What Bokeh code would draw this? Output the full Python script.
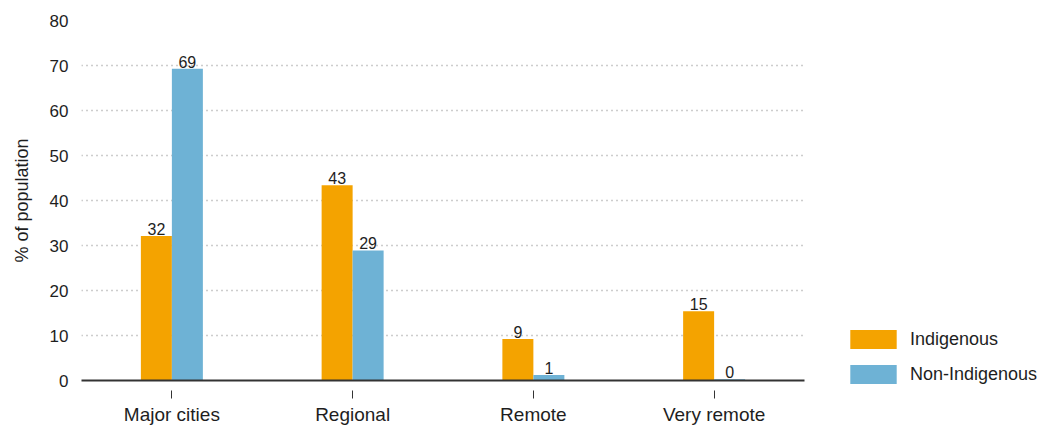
from bokeh.plotting import figure
from bokeh.models import ColumnDataSource, Range1d, FactorRange, Legend, LegendItem, FixedTicker
from bokeh.transform import dodge
from bokeh.core.properties import value
from bokeh.embed import file_html
from bokeh.resources import INLINE

categories = ["Major cities", "Regional", "Remote", "Very remote"]
indigenous = [32.1, 43.4, 9.2, 15.4]
non_indigenous = [69.3, 28.9, 1.2, 0.3]
indigenous_labels = ["32", "43", "9", "15"]
non_indigenous_labels = ["69", "29", "1", "0"]
y_ticks = [0, 10, 20, 30, 40, 50, 60, 70, 80]

ORANGE = "#F4A300"
BLUE = "#6EB2D5"
FONT = "Liberation Sans"
TXT = "#1e1e1e"

src = ColumnDataSource(dict(cat=categories, ind=indigenous, non=non_indigenous,
                            ind_lbl=indigenous_labels, non_lbl=non_indigenous_labels))

p = figure(x_range=FactorRange(*categories), y_range=Range1d(0, 80),
           frame_width=723, frame_height=360,
           min_border_left=81, min_border_right=243, min_border_top=20, min_border_bottom=40,
           output_backend="svg", toolbar_location=None, background_fill_color="white",
           border_fill_color="white", outline_line_color=None)

bw = 0.1715
off = bw / 2
r1 = p.vbar(x=dodge("cat", -off, range=p.x_range), top="ind", width=bw, source=src,
            fill_color=ORANGE, line_color=None)
r2 = p.vbar(x=dodge("cat", off, range=p.x_range), top="non", width=bw, source=src,
            fill_color=BLUE, line_color=None)

for col, lbl, o in (("ind", "ind_lbl", -off), ("non", "non_lbl", off)):
    p.text(x=dodge("cat", o, range=p.x_range), y=col, text=lbl, source=src,
           text_align="center", text_baseline="bottom", y_offset=-1,
           text_font=value(FONT), text_font_size="16px", text_color=TXT)

# grid
p.xgrid.grid_line_color = None
p.ygrid.grid_line_color = "#9a9a9a"
p.ygrid.grid_line_dash = "1 4"
p.ygrid.grid_line_width = 1.5
p.ygrid.ticker = FixedTicker(ticks=y_ticks)

# y axis
p.yaxis.ticker = FixedTicker(ticks=y_ticks)
p.yaxis.axis_line_color = None
p.yaxis.major_tick_line_color = None
p.yaxis.minor_tick_line_color = None
p.yaxis.major_label_standoff = 7
p.yaxis.major_label_text_font = FONT
p.yaxis.major_label_text_font_size = "17px"
p.yaxis.major_label_text_color = TXT
p.yaxis.axis_label = "% of population"
p.yaxis.axis_label_text_font = FONT
p.yaxis.axis_label_text_font_size = "18px"
p.yaxis.axis_label_text_font_style = "normal"
p.yaxis.axis_label_text_color = TXT
p.yaxis.axis_label_standoff = 15

# x axis
p.xaxis.axis_line_color = "#333333"
p.xaxis.axis_line_width = 2
p.xaxis.major_tick_line_color = "#333333"
p.xaxis.major_tick_in = -10
p.xaxis.major_tick_out = 18
p.xaxis.minor_tick_line_color = None
p.xaxis.major_label_standoff = 5
p.xaxis.major_label_text_font = FONT
p.xaxis.major_label_text_font_size = "19px"
p.xaxis.major_label_text_color = TXT

legend = Legend(items=[LegendItem(label="Indigenous", renderers=[r1]),
                       LegendItem(label="Non-Indigenous", renderers=[r2])],
                location=(40, -6), orientation="vertical",
                glyph_width=58, glyph_height=24, label_height=24, label_standoff=8,
                spacing=11, padding=0, margin=0, border_line_color=None,
                background_fill_alpha=0, label_text_font=FONT,
                label_text_font_size="18px", label_text_color=TXT)
p.add_layout(legend, "right")

open("out.html", "w").write(file_html(p, INLINE))
